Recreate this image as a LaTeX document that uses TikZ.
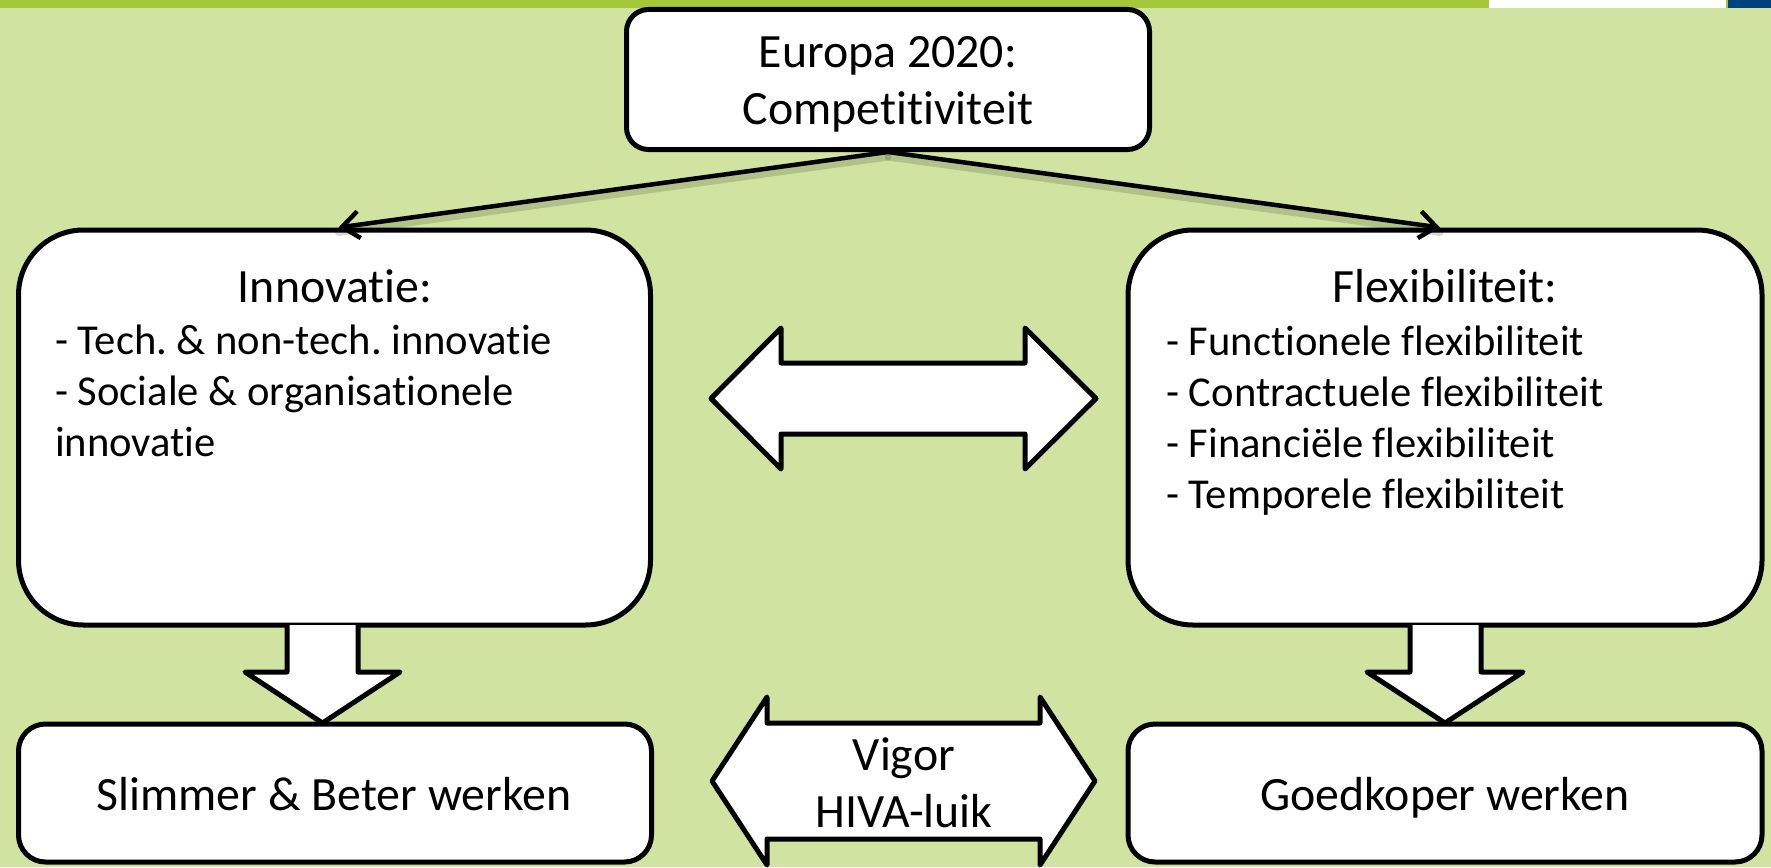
\documentclass[tikz,border=0pt]{standalone}
\usepackage{fontspec}
\setmainfont{Carlito}[Ligatures=NoCommon]
\usetikzlibrary{arrows.meta}
\definecolor{bggreen}{HTML}{D1E3A0}
\definecolor{bargreen}{HTML}{A5C83B}
\definecolor{barblue}{HTML}{00427E}
\begin{document}
\begin{tikzpicture}[x=1pt,y=-1pt,
  box/.style={draw=black, line width=5pt, fill=white, inner sep=0pt},
  ttl/.style={font=\fontsize{47.8}{57}\selectfont, anchor=base, inner sep=0pt},
  itm/.style={font=\fontsize{42.6}{51}\selectfont, anchor=base west, inner sep=0pt},
  conn/.style={line width=4.5pt, line cap=round, -{Straight Barb[length=17pt,width=27pt]}},
  shadowline/.style={line width=7pt, black, opacity=0.15, line cap=round},
  blockarrow/.style={draw=black, line width=5pt, fill=white, line join=round}]
% background and top bar
\fill[bggreen] (0,0) rectangle (1771,867);
\useasboundingbox (0,0) rectangle (1771,867);
\fill[bargreen] (0,0) rectangle (1489,8);
\fill[white] (1489,0) rectangle (1726,8);
\fill[bargreen] (1726,0) rectangle (1728,8);
\fill[barblue] (1728,0) rectangle (1771,8);
% boxes
\node[box, rounded corners=22pt, minimum width=523pt, minimum height=140pt] (top) at (888,79.5) {};
\node[box, rounded corners=65pt, minimum width=632pt, minimum height=395pt] (inno) at (334.5,427.5) {};
\node[box, rounded corners=65pt, minimum width=634pt, minimum height=395pt] (flex) at (1445,427.5) {};
\node[box, rounded corners=27pt, minimum width=633pt, minimum height=138pt] (slim) at (335,793) {};
\node[box, rounded corners=27pt, minimum width=634pt, minimum height=138pt] (goed) at (1445,793) {};
% connectors
\draw[shadowline] ([yshift=-5pt]top.south) -- ([xshift=4pt,yshift=-5pt]inno.north);
\draw[shadowline] ([yshift=-5pt]top.south) -- ([xshift=-5pt,yshift=-5pt]flex.north);
\draw[conn] (top.south) -- ([xshift=4pt]inno.north);
\draw[conn] (top.south) -- ([xshift=-5pt]flex.north);
% down block arrows
\draw[blockarrow] (287,625) -- (287,672) -- (245,672) -- (322.5,723) -- (400,672) -- (358,672) -- (358,625);
\draw[blockarrow] (1410,625) -- (1410,672) -- (1367,672) -- (1445,723) -- (1523,672) -- (1481,672) -- (1481,625);
% double block arrows
\draw[blockarrow] (711,398.5) -- (781,328) -- (781,363) -- (1025,363) -- (1025,328) -- (1096,398.5)
   -- (1025,469) -- (1025,434) -- (781,434) -- (781,469) -- cycle;
\draw[blockarrow] (712,781) -- (767,697) -- (767,723) -- (1040,723) -- (1040,697) -- (1095,781)
   -- (1040,865) -- (1040,839) -- (767,839) -- (767,865) -- cycle;
% texts
\node[ttl] (t1) at (888,67) {Europa 2020:};
\node[ttl] (t2) at (888,124) {Competitiviteit};
\node[ttl] (t3) at (335,302) {Innovatie:};
\node[itm] (t4) at (55,354) {- Tech.\ \& non-tech.\ innovatie};
\node[itm] (t5) at (55,405) {- Sociale \& organisationele};
\node[itm] (t6) at (55,456) {innovatie};
\node[ttl] (t7) at (1445,302) {Flexibiliteit:};
\node[itm] (t8) at (1166,355) {- Functionele flexibiliteit};
\node[itm] (t9) at (1166,406) {- Contractuele flexibiliteit};
\node[itm] (t10) at (1166,457) {- Financiële flexibiliteit};
\node[itm] (t11) at (1166,508) {- Temporele flexibiliteit};
\node[ttl] (t12) at (334,810) {Slimmer \& Beter werken};
\node[ttl] (t13) at (1445,810) {Goedkoper werken};
\node[ttl] (t14) at (904,770) {Vigor};
\node[ttl] (t15) at (904,827) {HIVA-luik};
\end{tikzpicture}
\end{document}
